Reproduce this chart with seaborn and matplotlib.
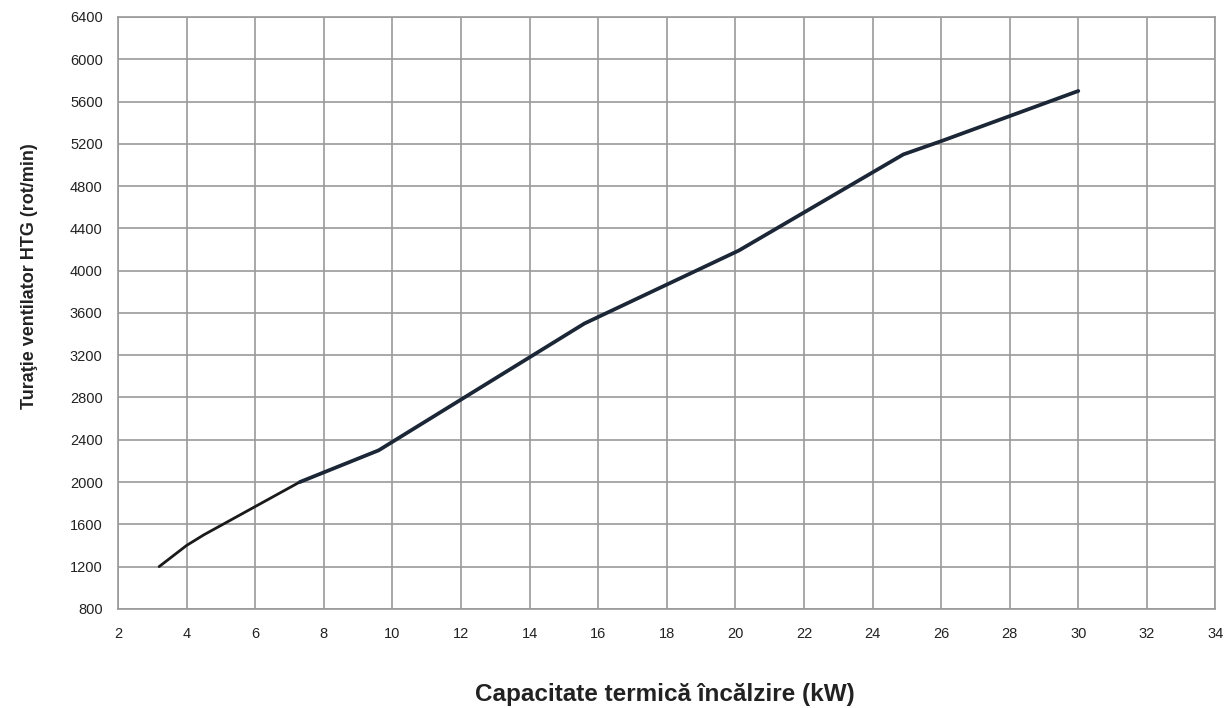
import numpy as np
import pandas as pd
import matplotlib as mpl
mpl.use("Agg")
import matplotlib.pyplot as plt
import seaborn as sns

# ------------------------------------------------------------
# Data
# ------------------------------------------------------------
capacity_kw = [3.2, 4.0, 4.5, 7.3, 9.6, 15.6, 20.1, 24.9, 26.0, 30.0]
fan_speed = [1200, 1400, 1500, 2000, 2300, 3500, 4190, 5100, 5225, 5700]

X_TICKS = list(range(2, 35, 2))
Y_TICKS = list(range(800, 6401, 400))

X_LABEL = "Capacitate termică încălzire (kW)"
Y_LABEL = "Turaţie ventilator HTG (rot/min)"

GRID_COLOR = "#9a9a9a"
LINE_COLOR = "#1b2636"

# ------------------------------------------------------------
# Plot
# ------------------------------------------------------------
sns.set_style("white")
plt.rcParams["font.family"] = ["Liberation Sans", "DejaVu Sans"]

df = pd.DataFrame({"kW": capacity_kw, "rpm": fan_speed})
thin = df.iloc[:4]
thick = df.iloc[3:]

fig = plt.figure(figsize=(12.29, 7.08), dpi=100)
ax = fig.add_axes([0.096, 0.140, 0.893, 0.836])

sns.lineplot(data=thin, x="kW", y="rpm", ax=ax, color="#1a1a1a",
             linewidth=2.0, sort=False)
sns.lineplot(data=thick, x="kW", y="rpm", ax=ax, color=LINE_COLOR,
             linewidth=2.7, sort=False)

ax.set_xlim(2, 34)
ax.set_ylim(800, 6400)
ax.set_xticks(X_TICKS)
ax.set_yticks(Y_TICKS)

ax.grid(True, color=GRID_COLOR, linewidth=1.2)
ax.set_axisbelow(True)
for sp in ax.spines.values():
    sp.set_color(GRID_COLOR)
    sp.set_linewidth(1.2)

ax.tick_params(axis="y", length=4, width=1.2, color=GRID_COLOR,
               labelsize=10.5, labelcolor="#222222", pad=7)
ax.tick_params(axis="x", length=0, labelsize=10.5, labelcolor="#222222", pad=13)

ax.set_xlabel(X_LABEL, fontsize=17.5, fontweight="bold", color="#222222")
ax.set_ylabel(Y_LABEL, fontsize=13, fontweight="bold", color="#222222")
ax.xaxis.set_label_coords(0.498, -0.125)
ax.yaxis.set_label_coords(-0.073, 0.5625)

fig.savefig("out.png", dpi=100)
plt.close(fig)
